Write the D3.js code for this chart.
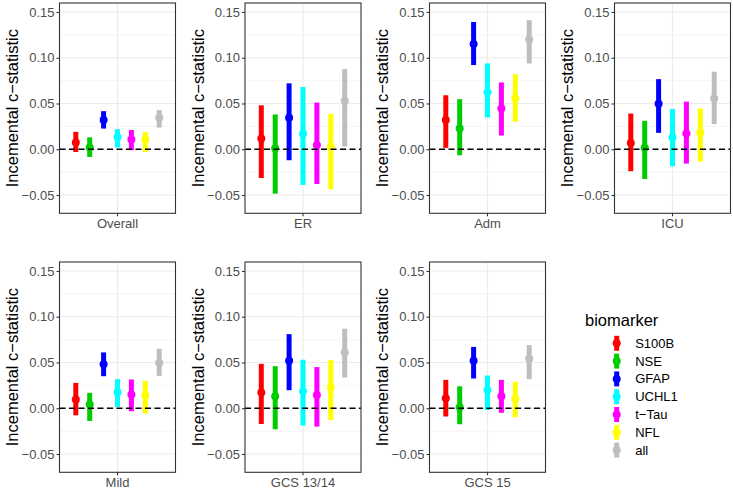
<!DOCTYPE html>
<html>
<head>
<meta charset="utf-8">
<script src="https://cdn.jsdelivr.net/npm/d3@7"></script>
<style>
  body { margin: 0; background: #fff; }
  svg { display: block; font-family: "Liberation Sans", Arial, sans-serif; }
</style>
</head>
<body>
<svg id="chart" width="733" height="490"></svg>
<script>
const panels = ["Overall", "ER", "Adm", "ICU", "Mild", "GCS 13/14", "GCS 15"];
const biomarkers = ["S100B", "NSE", "GFAP", "UCHL1", "t\u2212Tau", "NFL", "all"];
const colors = ["#FF0000", "#00CD00", "#0000FF", "#00FFFF", "#FF00FF", "#FFFF00", "#BEBEBE"];
const yTicks = [-0.05, 0, 0.05, 0.10, 0.15];
const yMinorTicks = [-0.025, 0.025, 0.075, 0.125];
const yTickLabels = ["\u22120.05", "0.00", "0.05", "0.10", "0.15"];
const yTitle = "Incemental c\u2212statistic";
const legendTitle = "biomarker";

// one row per panel, one value per biomarker
const estimate = [
  [0.0073, 0.0020, 0.0320, 0.0135, 0.0106, 0.0106, 0.0343],
  [0.0117, 0.0010, 0.0343, 0.0170, 0.0047, 0.0026, 0.0530],
  [0.0320, 0.0226, 0.1150, 0.0624, 0.0445, 0.0558, 0.1200],
  [0.0069, 0.0015, 0.0496, 0.0128, 0.0172, 0.0179, 0.0555],
  [0.0095, 0.0040, 0.0480, 0.0175, 0.0150, 0.0139, 0.0496],
  [0.0172, 0.0131, 0.0518, 0.0186, 0.0146, 0.0230, 0.0610],
  [0.0110, 0.0011, 0.0518, 0.0200, 0.0131, 0.0099, 0.0540]
];
const lower = [
  [-0.0030, -0.0084, 0.0226, 0.0020, -0.0010, -0.0030, 0.0237],
  [-0.0314, -0.0485, -0.0120, -0.0390, -0.0380, -0.0438, 0.0030],
  [0.0015, -0.0066, 0.0920, 0.0347, 0.0150, 0.0300, 0.0938],
  [-0.0240, -0.0325, 0.0179, -0.0186, -0.0157, -0.0135, 0.0274],
  [-0.0077, -0.0139, 0.0350, 0.0015, -0.0033, -0.0058, 0.0354],
  [-0.0172, -0.0230, 0.0197, -0.0190, -0.0200, -0.0130, 0.0336],
  [-0.0090, -0.0175, 0.0325, -0.0020, -0.0050, -0.0100, 0.0318]
];
const upper = [
  [0.0190, 0.0130, 0.0416, 0.0220, 0.0210, 0.0190, 0.0427],
  [0.0480, 0.0380, 0.0720, 0.0680, 0.0510, 0.0387, 0.0876],
  [0.0590, 0.0547, 0.1390, 0.0938, 0.0730, 0.0820, 0.1410],
  [0.0390, 0.0310, 0.0766, 0.0440, 0.0520, 0.0445, 0.0847],
  [0.0277, 0.0168, 0.0610, 0.0318, 0.0314, 0.0300, 0.0650],
  [0.0485, 0.0460, 0.0810, 0.0530, 0.0450, 0.0526, 0.0869],
  [0.0310, 0.0240, 0.0670, 0.0358, 0.0310, 0.0290, 0.0690]
];

const svg = d3.select("#chart");
const panelW = 116, panelH = 210.3;
const colLeft = [59.5, 245, 429.5, 614.5];
const rowTop = [3, 262];
const yDomain = [-0.07, 0.1598];
const dodge = 13.9;

const color = d3.scaleOrdinal().domain(biomarkers).range(colors);

panels.forEach((p, pi) => {
  const col = pi < 4 ? pi : pi - 4;
  const row = pi < 4 ? 0 : 1;
  const x0 = colLeft[col], y0 = rowTop[row];
  const g = svg.append("g").attr("transform", `translate(${x0},${y0})`);
  const y = d3.scaleLinear().domain(yDomain).range([panelH, 0]);
  const cx = panelW / 2;
  const xPanel = d3.scaleBand().domain([p]).range([0, panelW]).paddingInner(0).paddingOuter(0);
  const center = xPanel(p) + xPanel.bandwidth() / 2;
  const x = d3.scalePoint().domain(biomarkers).range([center - 3 * dodge, center + 3 * dodge]);

  // grid
  g.selectAll(".minor").data(yMinorTicks).join("line")
    .attr("x1", 0).attr("x2", panelW)
    .attr("y1", d => y(d)).attr("y2", d => y(d))
    .attr("stroke", "#EBEBEB").attr("stroke-width", 0.55);
  g.selectAll(".major").data(yTicks).join("line")
    .attr("x1", 0).attr("x2", panelW)
    .attr("y1", d => y(d)).attr("y2", d => y(d))
    .attr("stroke", "#EBEBEB").attr("stroke-width", 1.1);
  g.append("line").attr("x1", center).attr("x2", center).attr("y1", 0).attr("y2", panelH)
    .attr("stroke", "#EBEBEB").attr("stroke-width", 1.1);

  // pointranges
  const data = biomarkers.map((b, i) => ({b, est: estimate[pi][i], lo: lower[pi][i], hi: upper[pi][i]}));
  g.selectAll(".range").data(data).join("line")
    .attr("x1", d => x(d.b)).attr("x2", d => x(d.b))
    .attr("y1", d => y(d.lo)).attr("y2", d => y(d.hi))
    .attr("stroke", d => color(d.b)).attr("stroke-width", 5);
  g.selectAll(".pt").data(data).join("circle")
    .attr("cx", d => x(d.b)).attr("cy", d => y(d.est)).attr("r", 4)
    .attr("fill", d => color(d.b));

  // zero line
  g.append("line").attr("x1", 0).attr("x2", panelW).attr("y1", y(0)).attr("y2", y(0))
    .attr("stroke", "#000").attr("stroke-width", 1.5).attr("stroke-dasharray", "6,3.5");

  // border
  g.append("rect").attr("x", 0).attr("y", 0).attr("width", panelW).attr("height", panelH)
    .attr("fill", "none").attr("stroke", "#333333").attr("stroke-width", 1.1);

  // y axis
  const yAxis = d3.axisLeft(y).tickValues(yTicks).tickSize(3).tickPadding(2)
    .tickFormat((d, i) => yTickLabels[i]);
  const ya = g.append("g").call(yAxis);
  ya.select(".domain").remove();
  ya.selectAll(".tick line").attr("stroke", "#333333").attr("stroke-width", 1.1);
  ya.selectAll(".tick text").attr("fill", "#4D4D4D").style("font-size", "13px")
    .style("font-family", "'Liberation Sans', Arial, sans-serif");

  // x axis
  const xAxis = d3.axisBottom(xPanel).tickSize(3).tickPadding(2);
  const xa = g.append("g").attr("transform", `translate(0,${panelH})`).call(xAxis);
  xa.select(".domain").remove();
  xa.selectAll(".tick line").attr("stroke", "#333333").attr("stroke-width", 1.1);
  xa.selectAll(".tick text").attr("fill", "#4D4D4D").style("font-size", "13px")
    .style("font-family", "'Liberation Sans', Arial, sans-serif");

  // y title
  g.append("text")
    .attr("transform", `translate(-47.5,${panelH / 2}) rotate(-90)`)
    .attr("text-anchor", "middle").attr("dominant-baseline", "central")
    .style("font-size", "16.5px").attr("fill", "#000")
    .text(yTitle);
});

// legend
const lg = svg.append("g").attr("transform", "translate(585,0)");
lg.append("text").attr("x", 0).attr("y", 326).style("font-size", "16.5px").attr("fill", "#000").text(legendTitle);
const items = lg.selectAll(".item").data(biomarkers).join("g")
  .attr("transform", (d, i) => `translate(31.7,${343.3 + i * 17.8})`);
items.append("line").attr("x1", 0).attr("x2", 0).attr("y1", -7.5).attr("y2", 7.5)
  .attr("stroke", d => color(d)).attr("stroke-width", 5);
items.append("circle").attr("r", 4).attr("fill", d => color(d));
items.append("text").attr("x", 18.5).attr("y", 0).attr("dominant-baseline", "central")
  .style("font-size", "13px").attr("fill", "#000").text(d => d);
</script>
</body>
</html>
